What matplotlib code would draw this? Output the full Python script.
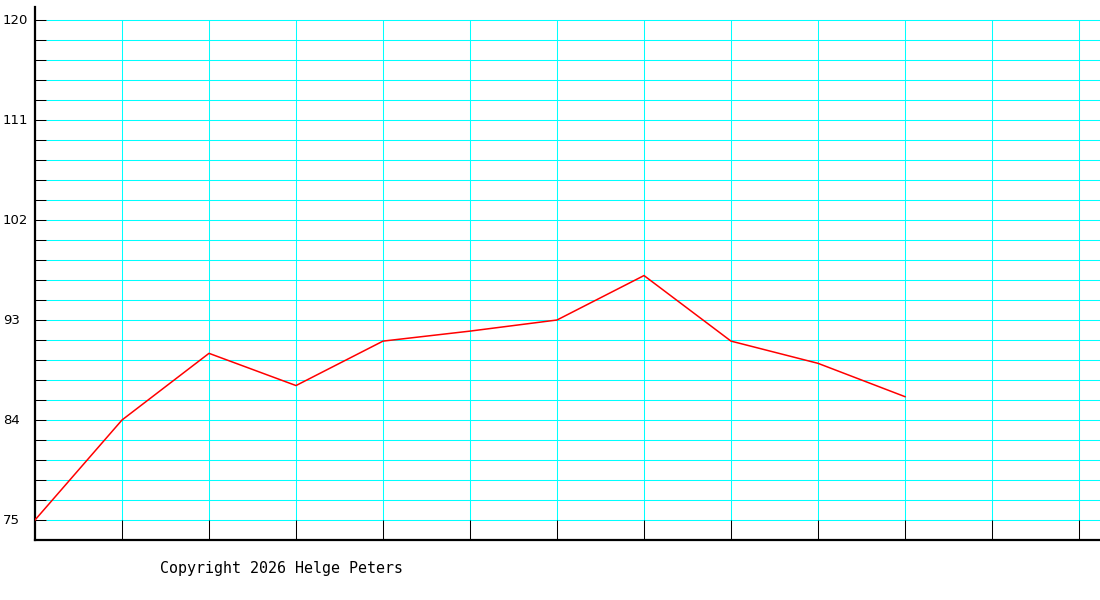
import numpy as np
import matplotlib
matplotlib.use('Agg')
import matplotlib.pyplot as plt

# values, one per interval
points = [0, 1, 2, 3, 4, 5, 6, 7, 8, 9, 10]
values = [75, 84, 90, 87.1, 91.1, 92, 93, 97, 91.1, 89.1, 86.1]
tick_values = [75, 84, 93, 102, 111, 120]
copyright_text = 'Copyright 2026 Helge Peters'

ymin, ymax = 75, 120
ystep = 1.8
xcount = 12

fig = plt.figure(figsize=(11, 6), dpi=100)
# axes box in pixels: x 35..1100, y 7..540
ax = fig.add_axes([35 / 1100, 60 / 600, 1065 / 1100, 533 / 600])
xlim_hi = 1065 / 87
ax.set_xlim(0, xlim_hi)
ax.set_ylim(ymin - ystep, ymax + 13 * 0.09)

lw = 0.75
tick_len = 11 / 87

# horizontal grid: black tick part then cyan line
hy = np.arange(ymin, ymax + ystep / 2, ystep)
ax.hlines(hy, tick_len, xlim_hi, colors='#00ffff', lw=lw, zorder=1)
ax.hlines(hy, 0, tick_len, colors='black', lw=lw, zorder=1)

# vertical grid: cyan over the data area, black below
vx = np.arange(1, xcount + 1)
ax.vlines(vx, ymin, ymax, colors='#00ffff', lw=lw, zorder=1)
ax.vlines(vx, ymin - ystep, ymin, colors='black', lw=lw, zorder=1)

ax.plot(points, values, color='#ff0000', lw=1.1, zorder=3)

for s in ['top', 'right']:
    ax.spines[s].set_visible(False)
for s in ['left', 'bottom']:
    ax.spines[s].set_linewidth(1.6)
    ax.spines[s].set_color('black')

ax.set_xticks([])
ax.set_yticks([])

for v in tick_values:
    ax.text(-32 / 87, v, str(v), ha='left', va='center', fontsize=9.5,
            family='DejaVu Sans', color='black', clip_on=False)

fig.text(160 / 1100, 1 - 568 / 600, copyright_text, ha='left', va='center',
         fontsize=10.8, family='DejaVu Sans Mono', color='black')

fig.savefig('out.png', dpi=100)
